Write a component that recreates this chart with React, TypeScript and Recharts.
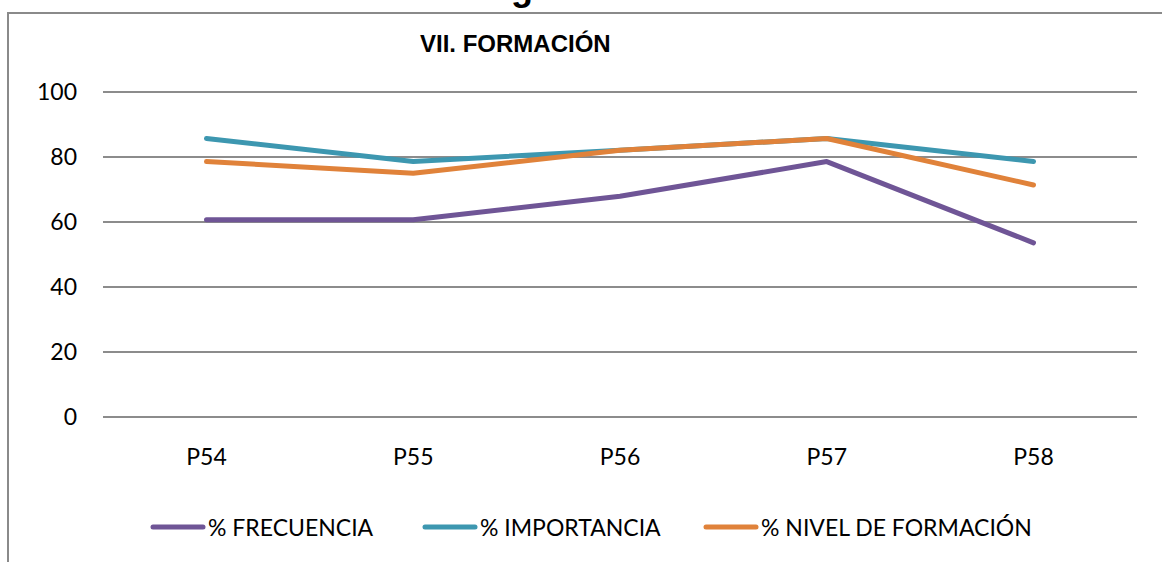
import React from 'react';
import { LineChart, Line, XAxis, YAxis, CartesianGrid, Legend } from 'recharts';

const categories = ['P54', 'P55', 'P56', 'P57', 'P58'];
const frecuencia = [60.7, 60.7, 67.9, 78.6, 53.6];
const importancia = [85.7, 78.6, 82.1, 85.7, 78.6];
const nivel = [78.6, 75.0, 82.1, 85.7, 71.4];
const yTicks = [0, 20, 40, 60, 80, 100];
const seriesKeys = ['frecuencia', 'importancia', 'nivel'];
const seriesNames = ['% FRECUENCIA', '% IMPORTANCIA', '% NIVEL DE FORMACIÓN'];
const seriesColors = ['#6F5596', '#3D97B0', '#E0823A'];
const title = 'VII. FORMACIÓN';

const data = categories.map((c, i) => ({
  name: c,
  frecuencia: frecuencia[i],
  importancia: importancia[i],
  nivel: nivel[i],
}));

const FONT = 'Lato, "Open Sans", sans-serif';
const itemWidths = [272, 281, 360];

const renderLegend = (props: any) => {
  const payload = props.payload || [];
  return (
    <div style={{ display: 'flex', alignItems: 'center', paddingLeft: 150, height: 30 }}>
      {payload.map((p: any, i: number) => (
        <div key={p.value} style={{ display: 'flex', alignItems: 'center', width: itemWidths[i] }}>
          <svg width={56} height={10} style={{ display: 'block' }}>
            <line x1={3} y1={5} x2={53} y2={5} stroke={p.color} strokeWidth={5} strokeLinecap="round" />
          </svg>
          <span style={{ fontFamily: FONT, fontSize: 23, color: '#000', marginLeft: 2, whiteSpace: 'nowrap' }}>{p.value}</span>
        </div>
      ))}
    </div>
  );
};

export default function App() {
  return (
    <div style={{ position: 'absolute', left: 0, top: 0, width: 1162, height: 562, overflow: 'hidden', background: '#fff' }}>
      <div style={{ position: 'absolute', left: 7, top: 12, width: 1200, height: 600, border: '2px solid #8A8A8A' }} />
      <div style={{ position: 'absolute', left: 0, top: 0 }}>
        <LineChart width={1162} height={562} data={data} margin={{ top: 92, right: 25, bottom: 105, left: 0 }}>
          <text x={511} y={0} fontFamily="Liberation Sans, Arial, sans-serif" fontWeight="bold" fontSize={36} fill="#000">g</text>
          <text x={420} y={52} fontFamily="Liberation Sans, Arial, sans-serif" fontWeight="bold" fontSize={24} fill="#000">{title}</text>
          <CartesianGrid vertical={false} stroke="#8C8C8C" strokeWidth={2} />
          <XAxis
            dataKey="name"
            axisLine={false}
            tickLine={false}
            tickSize={0}
            tickMargin={32}
            height={40}
            padding={{ left: 103.5, right: 103.5 }}
            tick={{ fill: '#000', fontSize: 23, fontFamily: FONT }}
            interval={0}
          />
          <YAxis
            domain={[0, 100]}
            ticks={yTicks}
            axisLine={false}
            tickLine={false}
            tickSize={0}
            tickMargin={26}
            width={103}
            tick={{ fill: '#000', fontSize: 23, fontFamily: FONT }}
          />
          <Legend
            layout="horizontal"
            verticalAlign="middle"
            align="center"
            wrapperStyle={{ position: 'absolute', left: 0, top: 512, width: 1162 }}
            content={renderLegend}
          />
          {seriesKeys.map((k, i) => (
            <Line
              key={k}
              type="linear"
              dataKey={k}
              name={seriesNames[i]}
              stroke={seriesColors[i]}
              strokeWidth={5}
              strokeLinecap="round"
              strokeLinejoin="round"
              dot={false}
              activeDot={false}
              isAnimationActive={false}
            />
          ))}
        </LineChart>
      </div>
    </div>
  );
}
